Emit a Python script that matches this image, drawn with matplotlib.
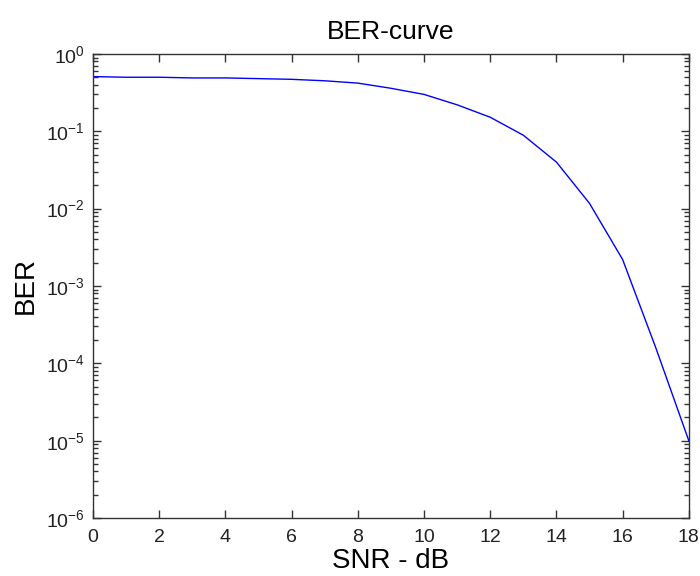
import numpy as np
import matplotlib.pyplot as plt
from matplotlib.ticker import LogLocator, NullFormatter

plt.rcParams['font.family'] = ['Liberation Sans', 'DejaVu Sans']
plt.rcParams['mathtext.default'] = 'regular'

# BER at each integer SNR
snr_db = [0, 1, 2, 3, 4, 5, 6, 7, 8, 9, 10, 11, 12, 13, 14, 15, 16, 17, 18]
ber = [0.51, 0.50, 0.50, 0.49, 0.49, 0.48, 0.47, 0.45, 0.42, 0.36, 0.30,
       0.22, 0.152, 0.089, 0.040, 0.0117, 0.0022, 1.6e-4, 1.0e-5]

fig = plt.figure(figsize=(7, 5.76), dpi=100)
ax = fig.add_axes([0.133, 0.1007, 0.851, 0.8056])

ax.semilogy(snr_db, ber, color='b', linewidth=1)

ax.set_xlim(0, 18)
ax.set_ylim(1e-6, 1)
ax.set_xticks(np.arange(0, 19, 2))
ax.set_yticks(10.0 ** np.arange(-6, 1))
ax.yaxis.set_minor_locator(LogLocator(base=10, subs=np.arange(2, 10), numticks=10))
ax.yaxis.set_minor_formatter(NullFormatter())
ax.set_ylim(1e-6, 1)

ax.tick_params(which='both', direction='in', top=True, right=True, labelsize=14,
               pad=6, colors='#333333', labelcolor='#222222')
ax.tick_params(axis='x', which='major', pad=8)
ax.tick_params(which='major', length=6, width=1)
ax.tick_params(which='minor', length=3.5, width=1)
for s in ax.spines.values():
    s.set_linewidth(1)
    s.set_color('#333333')

ax.set_title('BER-curve', fontsize=19, pad=11)
ax.set_xlabel('SNR - dB', fontsize=20)
ax.set_ylabel('BER', fontsize=20)
ax.xaxis.set_label_coords(0.5, -0.064)
ax.yaxis.set_label_coords(-0.0906, 0.5)

plt.savefig('out.png', dpi=100)
